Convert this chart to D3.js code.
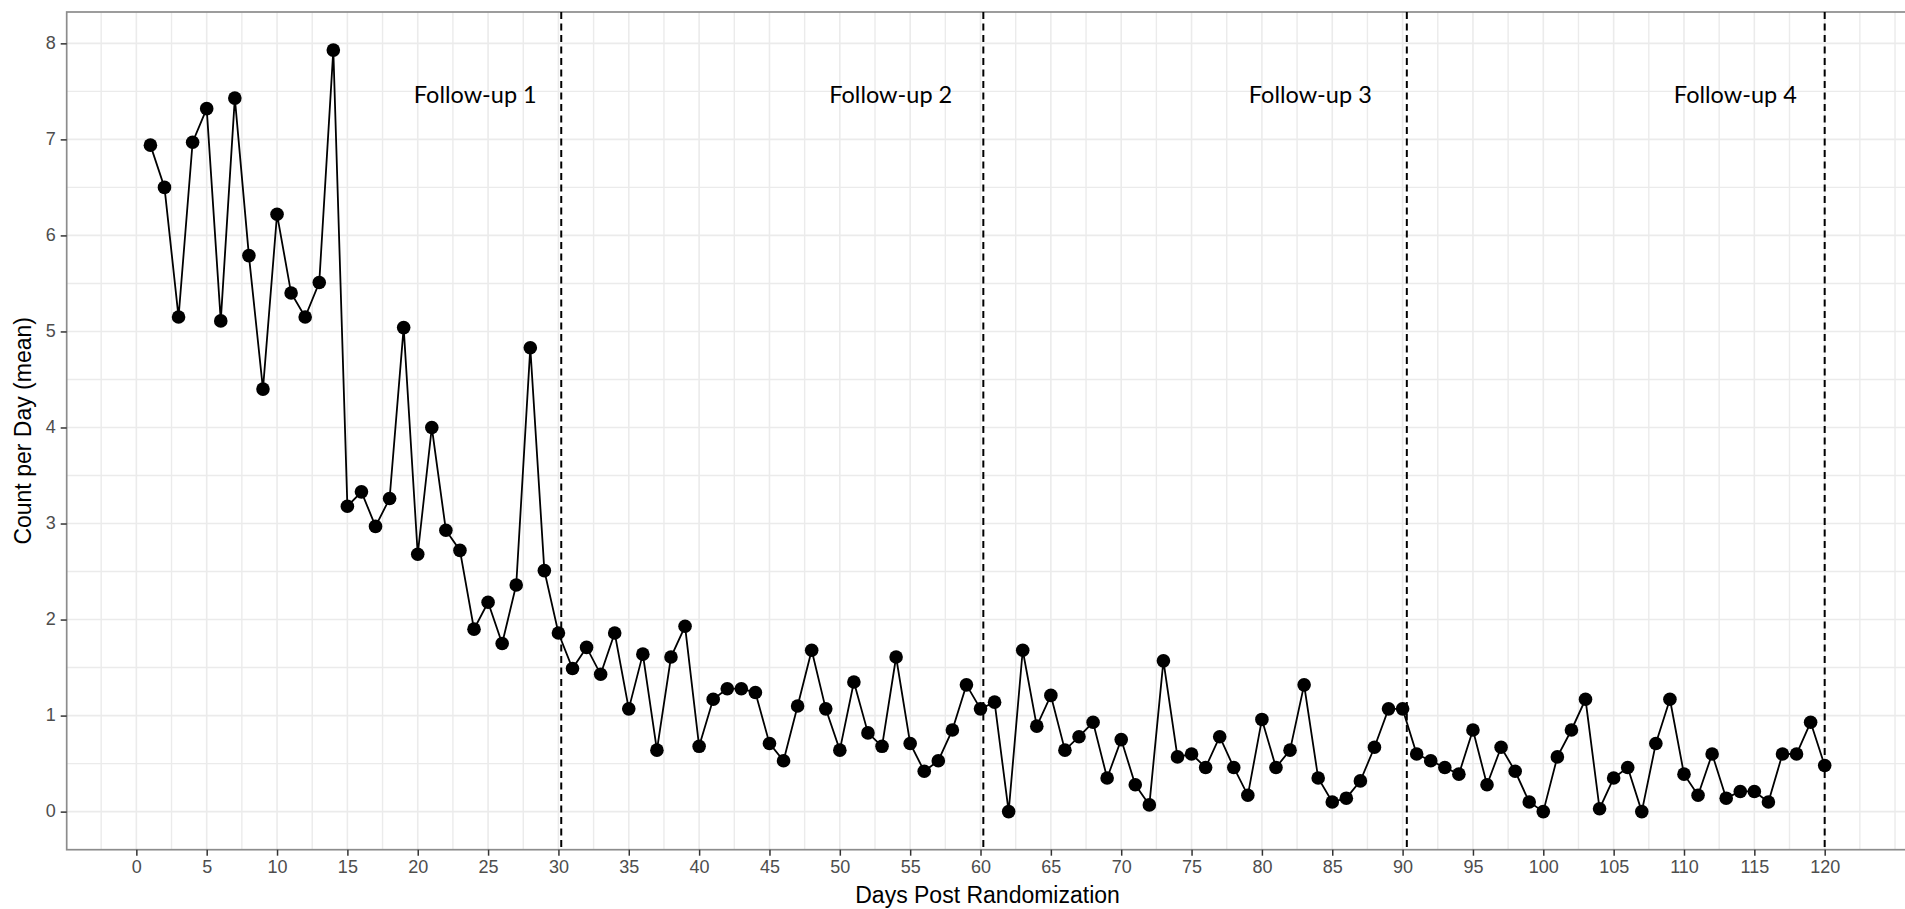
<!DOCTYPE html>
<html>
<head>
<meta charset="utf-8">
<script src="https://cdn.jsdelivr.net/npm/d3@7"></script>
<style>
  html, body { margin: 0; padding: 0; background: #ffffff; }
  svg { display: block; }
</style>
</head>
<body>
<script>
// ---- data ----
const days = [1,2,3,4,5,6,7,8,9,10,11,12,13,14,15,16,17,18,19,20,
  21,22,23,24,25,26,27,28,29,30,31,32,33,34,35,36,37,38,39,40,
  41,42,43,44,45,46,47,48,49,50,51,52,53,54,55,56,57,58,59,60,
  61,62,63,64,65,66,67,68,69,70,71,72,73,74,75,76,77,78,79,80,
  81,82,83,84,85,86,87,88,89,90,91,92,93,94,95,96,97,98,99,100,
  101,102,103,104,105,106,107,108,109,110,111,112,113,114,115,116,117,118,119,120];
const counts = [6.94,6.50,5.15,6.97,7.32,5.11,7.43,5.79,4.40,6.22,
  5.40,5.15,5.51,7.93,3.18,3.33,2.97,3.26,5.04,2.68,
  4.00,2.93,2.72,1.90,2.18,1.75,2.36,4.83,2.51,1.86,
  1.49,1.71,1.43,1.86,1.07,1.64,0.64,1.61,1.93,0.68,
  1.17,1.28,1.28,1.24,0.71,0.53,1.10,1.68,1.07,0.64,
  1.35,0.82,0.68,1.61,0.71,0.42,0.53,0.85,1.32,1.07,
  1.14,0.00,1.68,0.89,1.21,0.64,0.78,0.93,0.35,0.75,
  0.28,0.07,1.57,0.57,0.60,0.46,0.78,0.46,0.17,0.96,
  0.46,0.64,1.32,0.35,0.10,0.14,0.32,0.67,1.07,1.07,
  0.60,0.53,0.46,0.39,0.85,0.28,0.67,0.42,0.10,0.00,
  0.57,0.85,1.17,0.03,0.35,0.46,0.00,0.71,1.17,0.39,
  0.17,0.60,0.14,0.21,0.21,0.10,0.60,0.60,0.93,0.48];
const xTicks = [0,5,10,15,20,25,30,35,40,45,50,55,60,65,70,75,80,85,90,95,100,105,110,115,120];
const yTicks = [0,1,2,3,4,5,6,7,8];
const followUpDays = [30.2, 60.2, 90.3, 120];
const followUpLabels = ["Follow-up 1","Follow-up 2","Follow-up 3","Follow-up 4"];
const followUpLabelX = [24.09, 53.62, 83.44, 113.65];
const followUpLabelY = 7.5;
const xTitle = "Days Post Randomization";
const yTitle = "Count per Day (mean)";

// ---- layout ----
const W = 1905, H = 909;
const panel = { left: 66.7, top: 12, right: 1908.4, bottom: 849.7 };

const svg = d3.select("body").append("svg")
  .attr("width", W).attr("height", H)
  .style("background", "#ffffff");

// ggplot-like 5% expansion
const xExt = d3.extent(days), yExt = d3.extent(counts);
const xPad = (xExt[1] - xExt[0]) * 0.05, yPad = (yExt[1] - yExt[0]) * 0.05;
const x = d3.scaleLinear().domain([xExt[0] - xPad, xExt[1] + xPad]).range([panel.left, panel.right]);
const y = d3.scaleLinear().domain([yExt[0] - yPad, yExt[1] + yPad]).range([panel.bottom, panel.top]);

// minor breaks
const xStep = xTicks[1] - xTicks[0];
const xMinor = [];
for (let i = -1; i <= xTicks.length; i++) {
  const v = xTicks[0] + (i + 0.5) * xStep;
  if (v >= x.domain()[0] && v <= x.domain()[1]) xMinor.push(v);
}
const extraMajor = xTicks[xTicks.length - 1] + xStep;
if (extraMajor <= x.domain()[1]) xMinor.push(extraMajor);
const yMinor = [];
for (let i = -1; i < yTicks.length; i++) {
  const v = yTicks[0] + (i + 0.5);
  if (v >= y.domain()[0] && v <= y.domain()[1]) yMinor.push(v);
}

svg.append("defs").append("clipPath").attr("id", "pclip")
  .append("rect").attr("x", panel.left).attr("y", panel.top)
  .attr("width", panel.right - panel.left).attr("height", panel.bottom - panel.top);

const grid = svg.append("g").attr("clip-path", "url(#pclip)");
const gridColor = "#ebebeb";
grid.selectAll("line.vminor").data(xMinor).join("line")
  .attr("x1", d => x(d)).attr("x2", d => x(d))
  .attr("y1", panel.top).attr("y2", panel.bottom)
  .attr("stroke", gridColor).attr("stroke-width", 1.4);
grid.selectAll("line.hminor").data(yMinor).join("line")
  .attr("y1", d => y(d)).attr("y2", d => y(d))
  .attr("x1", panel.left).attr("x2", panel.right)
  .attr("stroke", gridColor).attr("stroke-width", 1.4);
grid.selectAll("line.vmajor").data(xTicks).join("line")
  .attr("x1", d => x(d)).attr("x2", d => x(d))
  .attr("y1", panel.top).attr("y2", panel.bottom)
  .attr("stroke", gridColor).attr("stroke-width", 1.6);
grid.selectAll("line.hmajor").data(yTicks).join("line")
  .attr("y1", d => y(d)).attr("y2", d => y(d))
  .attr("x1", panel.left).attr("x2", panel.right)
  .attr("stroke", gridColor).attr("stroke-width", 1.6);

// panel border
svg.append("rect")
  .attr("x", panel.left).attr("y", panel.top)
  .attr("width", panel.right - panel.left).attr("height", panel.bottom - panel.top)
  .attr("fill", "none").attr("stroke", "#8c8c8c").attr("stroke-width", 1.7);

// axes
const xAxis = d3.axisBottom(x).tickValues(xTicks).tickSize(6).tickPadding(5).tickFormat(d3.format("d"));
const yAxis = d3.axisLeft(y).tickValues(yTicks).tickSize(6).tickPadding(5).tickFormat(d3.format("d"));
const gx = svg.append("g").attr("transform", `translate(0,${panel.bottom})`).call(xAxis);
const gy = svg.append("g").attr("transform", `translate(${panel.left},0)`).call(yAxis);
[gx, gy].forEach(g => {
  g.select(".domain").remove();
  g.selectAll(".tick line").attr("stroke", "#333333").attr("stroke-width", 1.5);
  g.selectAll(".tick text")
    .attr("fill", "#4d4d4d")
    .style("font-family", "'Liberation Sans', Arial, sans-serif")
    .style("font-size", "18px");
});
gx.selectAll(".tick text").attr("dy", null).attr("y", 18.5).attr("dominant-baseline", "middle");
gy.selectAll(".tick text").attr("dy", null).attr("dominant-baseline", "middle");

// follow-up vertical dashed lines
svg.append("g").selectAll("line").data(followUpDays).join("line")
  .attr("x1", d => x(d)).attr("x2", d => x(d))
  .attr("y1", panel.top).attr("y2", panel.bottom)
  .attr("stroke", "#000").attr("stroke-width", 2)
  .attr("stroke-dasharray", "7,4.5");

// follow-up labels
svg.append("g").selectAll("text").data(followUpLabels).join("text")
  .attr("x", (d, i) => x(followUpLabelX[i]))
  .attr("y", y(followUpLabelY) + 12)
  .attr("text-anchor", "middle")
  .style("font-family", "Lato, 'Open Sans', sans-serif")
  .style("font-size", "23.5px")
  .attr("fill", "#000")
  .text(d => d);

// line + points
const pts = days.map((d, i) => [d, counts[i]]);
svg.append("path")
  .datum(pts)
  .attr("fill", "none").attr("stroke", "#000").attr("stroke-width", 1.8)
  .attr("d", d3.line().x(d => x(d[0])).y(d => y(d[1])));
svg.append("g").selectAll("circle").data(pts).join("circle")
  .attr("cx", d => x(d[0])).attr("cy", d => y(d[1]))
  .attr("r", 6.8).attr("fill", "#000");

// axis titles
svg.append("text")
  .attr("x", (panel.left + panel.right) / 2).attr("y", 903)
  .attr("text-anchor", "middle")
  .style("font-family", "'Liberation Sans', Arial, sans-serif")
  .style("font-size", "23px").attr("fill", "#000")
  .text(xTitle);
svg.append("text")
  .attr("transform", `translate(31,${(panel.top + panel.bottom) / 2}) rotate(-90)`)
  .attr("text-anchor", "middle")
  .style("font-family", "'Liberation Sans', Arial, sans-serif")
  .style("font-size", "23px").attr("fill", "#000")
  .text(yTitle);
</script>
</body>
</html>
